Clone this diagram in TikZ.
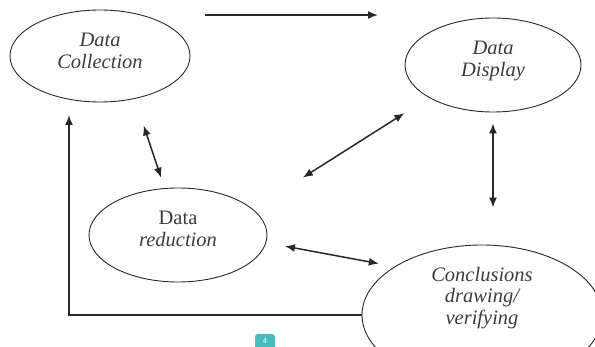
\documentclass[tikz,border=0pt]{standalone}
\usepackage{fontspec}
\setmainfont{Liberation Serif}
\usetikzlibrary{shapes.geometric,arrows.meta}
\definecolor{inkgray}{RGB}{40,40,40}
\definecolor{textgray}{RGB}{60,60,60}
\definecolor{badgeteal}{RGB}{70,190,190}

\begin{document}
\begin{tikzpicture}[
    x=1pt, y=-1pt,
    phase/.style={ellipse, draw=inkgray, line width=0.9pt, inner sep=0pt},
    txt/.style={align=center, text=textgray, font=\fontsize{20.5}{21.5}\selectfont\itshape},
    arr/.style={-{Latex[length=10pt,width=8pt]}, line width=1.5pt, draw=inkgray},
    dbl/.style={{Latex[length=10pt,width=8pt]}-{Latex[length=10pt,width=8pt]}, line width=1.5pt, draw=inkgray}
]
\useasboundingbox (0,0) rectangle (595,347);
\clip (0,0) rectangle (595,347);

% Phases of the analysis
\node[phase, minimum width=180pt, minimum height=92pt,
      label={[txt,yshift=5pt]center:{Data\\Collection}}] (coll) at (100,56) {};
\node[phase, minimum width=176pt, minimum height=94pt,
      label={[txt,yshift=4pt]center:{Data\\Display}}] (disp) at (493,65) {};
\node[phase, minimum width=178pt, minimum height=94pt,
      label={[txt,yshift=6pt]center:{{\upshape Data}\\reduction}}] (red) at (178,235) {};
\node[phase, minimum width=240pt, minimum height=140pt,
      label={[txt,yshift=17pt]center:{Conclusions\\drawing/\\verifying}}] (concl) at (482,315) {};

% Free ends
\coordinate (topstart) at (205,15);
\coordinate (topend) at (378,15);
\coordinate (loopend) at (69,115);

% Connections
\draw[arr] (topstart) -- (topend);
\draw[arr] (concl.west) -| (loopend);
\draw[dbl, shorten <=28pt, shorten >=11pt] (coll.-51) -- (red.106);
\draw[dbl, shorten <=29pt, shorten >=59pt] (disp.207) -- (red.19);
\draw[dbl, shorten <=11pt, shorten >=37pt] (disp.south) -- (disp.south |- concl.north);
\draw[dbl, shorten <=19pt, shorten >=16pt] (red.-5) -- (concl.151);

% Page badge
\fill[badgeteal, rounded corners=3pt] (255,334) rectangle (275,354);
\node[text=white, font=\sffamily\footnotesize, inner sep=0pt] (pagenum) at (265,341) {4};

\end{tikzpicture}
\end{document}
